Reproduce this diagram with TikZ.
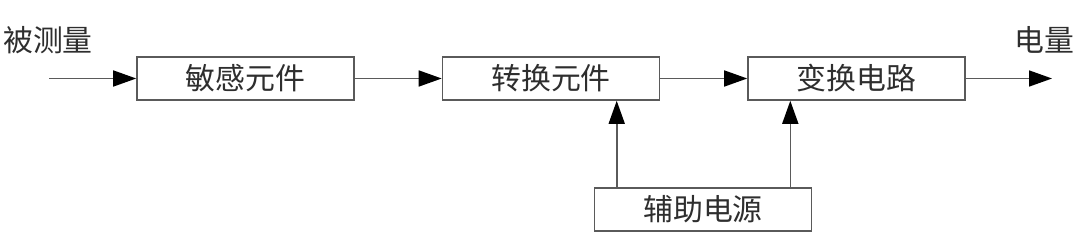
\documentclass[tikz,border=0pt]{standalone}
\usepackage{fontspec}
\newfontfamily\cjk{Noto Sans CJK SC}
\usetikzlibrary{arrows.meta}
\definecolor{linegray}{HTML}{5A5A5A}
\definecolor{textgray}{HTML}{2E2E2E}
\tikzset{
  block/.style={draw=linegray, line width=0.9pt, minimum width=4.34cm,
    minimum height=0.86cm, inner sep=0pt, text=textgray},
  sig/.style={linegray, line width=0.9pt,
    -{Triangle[length=0.46cm, width=0.32cm, black]}}
}
\begin{document}
\begin{tikzpicture}[every node/.style={font=\cjk\fontsize{17}{20}\selectfont}]
  \useasboundingbox (0,0) rectangle (21.6,4.94);

  % main chain
  \node[block] (sens) at (4.91,3.37)  {敏感元件};
  \node[block] (conv) at (11.02,3.37) {转换元件};
  \node[block] (circ) at (17.13,3.37) {变换电路};
  \node[block] (pwr)  at (14.06,0.75) {辅助电源};

  \node[text=textgray] (inlab)  at (0.96,4.14)  {被测量};
  \node[text=textgray] (outlab) at (20.88,4.14) {电量};

  \coordinate (in)  at (0.98,3.37);
  \coordinate (out) at (21.04,3.37);
  \coordinate (pa) at ([xshift=0.46cm]pwr.north west);
  \coordinate (pb) at ([xshift=-0.44cm]pwr.north east);

  \draw[sig] (in) -- (sens);
  \draw[sig] (sens) -- (conv);
  \draw[sig] (conv) -- (circ);
  \draw[sig] (circ) -- (out);

  % supply lines
  \draw[sig] (pa) -- (pa |- conv.south);
  \draw[sig] (pb) -- (pb |- circ.south);
\end{tikzpicture}
\end{document}
